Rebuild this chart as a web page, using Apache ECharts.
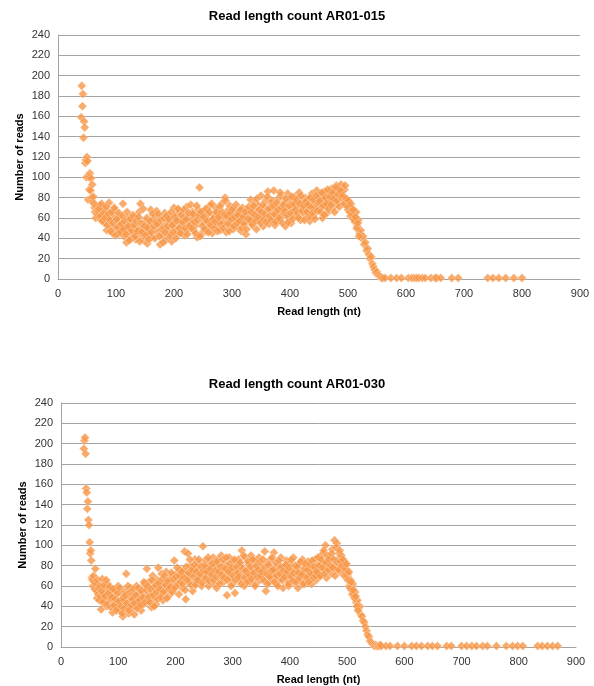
<!DOCTYPE html>
<html lang="en">
<head>
    <meta charset="UTF-8">
    <title>Read length count</title>
    <style>
        html, body { margin: 0; padding: 0; background: #fff; }
    </style>
</head>
<body>
<div id="chart" style="width: 594px; height: 686px;"></div>
<script src="https://cdn.jsdelivr.net/npm/echarts@6/dist/echarts.min.js"></script>
<script type="text/javascript">
    // AR01-015 : lengths 40..69 step 1, even lengths 70..560, odd lengths 71..519, then sparse tail
    var head015 = [159, 190, 170, 182, 139, 155, 149, 114, 117, 100,
        120, 116, 78, 100, 88, 104, 87, 99, 80, 93,
        76, 81, 74, 70, 66, 60, 72, 64, 68, 62];
    var even015 = [
        66, 72, 58, 63, 70, 55, 61, 48, 67, 75,
        60, 52, 45, 64, 68, 50, 57, 44, 62, 48,
        55, 74, 42, 50, 36, 60, 47, 53, 40, 58,
        45, 61, 39, 52, 48, 66, 74, 43, 50, 38,
        56, 47, 35, 53, 44, 68, 41, 58, 49, 63,
        67, 46, 54, 34, 61, 43, 52, 65, 38, 57,
        48, 62, 44, 37, 55, 70, 50, 64, 45, 58,
        67, 52, 47, 60, 43, 56, 71, 49, 63, 54,
        58, 66, 48, 61, 53, 41, 68, 90, 44, 62,
        55, 67, 47, 59, 64, 51, 72, 56, 45, 63,
        60, 70, 52, 65, 58, 48, 74, 62, 55, 80,
        46, 67, 59, 72, 53, 63, 49, 68, 57, 64,
        51, 66, 60, 47, 70, 56, 62, 44, 68, 58,
        64, 78, 55, 69, 60, 75, 49, 66, 72, 58,
        82, 63, 52, 70, 77, 60, 86, 54, 68, 74,
        61, 87, 53, 71, 65, 79, 58, 82, 67, 63,
        75, 52, 70, 84, 60, 78, 55, 72, 66, 81,
        62, 74, 70, 85, 58, 77, 68, 64, 80, 71,
        66, 79, 57, 73, 84, 62, 76, 69, 87, 72,
        68, 82, 74, 60, 79, 86, 71, 65, 83, 76,
        78, 89, 70, 84, 80, 92, 74, 88, 82, 93,
        86, 80, 88, 74, 78, 68, 72, 62, 70, 60,
        64, 56, 66, 52, 58, 45, 48, 40, 42, 34,
        36, 28, 30, 24, 20, 22, 15, 12, 9, 6,
        7, 4, 3, 2, 1, 1];
    var odd015 = [
        69, 62, 74, 57, 65, 60, 71, 53, 64, 58,
        47, 66, 55, 70, 43, 59, 51, 65, 46, 54,
        62, 49, 57, 44, 66, 52, 38, 59, 48, 63,
        53, 42, 57, 47, 61, 37, 55, 46, 69, 52,
        43, 60, 50, 39, 57, 46, 64, 52, 40, 56,
        54, 64, 42, 58, 49, 36, 60, 46, 62, 52,
        59, 42, 66, 53, 46, 61, 40, 57, 69, 50,
        45, 63, 56, 68, 50, 59, 44, 65, 52, 73,
        50, 64, 56, 45, 72, 58, 63, 42, 66, 52,
        61, 49, 69, 57, 46, 66, 53, 74, 59, 50,
        56, 66, 47, 61, 71, 54, 66, 50, 63, 77,
        62, 54, 47, 65, 59, 69, 52, 61, 73, 55,
        63, 57, 68, 50, 61, 54, 66, 49, 59, 71,
        58, 66, 53, 72, 63, 57, 79, 61, 68, 55,
        66, 73, 59, 64, 56, 81, 69, 62, 58, 77,
        72, 64, 56, 75, 68, 60, 85, 70, 55, 73,
        67, 79, 63, 56, 72, 65, 81, 59, 74, 68,
        78, 65, 60, 74, 82, 67, 72, 58, 76, 66,
        73, 61, 80, 70, 65, 78, 59, 82, 67, 75,
        77, 66, 85, 72, 63, 80, 74, 88, 69, 81,
        73, 85, 79, 66, 90, 77, 83, 71, 87, 80,
        82, 74, 92, 79, 71, 77, 66, 74, 63, 68,
        58, 61, 50, 55, 42];
    var tailLen015 = [564, 574, 584, 592, 604, 610, 614, 618, 622, 628, 633, 643, 650, 653, 660,
        679, 690, 741, 750, 760, 772, 786, 800];
    var tailCnt015 = [1, 1, 1, 1, 1, 1, 1, 1, 1, 1, 1, 1, 1, 1, 1, 1, 1, 1, 1, 1, 1, 1, 1];

    // AR01-030
    var head030 = [195, 203, 206, 190, 156, 152, 136, 143, 125, 120,
        103, 92, 95, 85, 68, 66, 60, 70, 64, 57,
        77, 62, 55, 48, 66, 52, 58, 46, 60, 50];
    var even030 = [
        37, 67, 52, 45, 58, 40, 62, 48, 55, 47,
        34, 50, 42, 56, 38, 60, 44, 36, 52, 30,
        46, 55, 72, 40, 33, 48, 58, 38, 50, 32,
        44, 60, 40, 53, 47, 36, 57, 42, 62, 50,
        77, 45, 64, 52, 39, 70, 48, 58, 42, 66,
        78, 52, 60, 72, 46, 63, 55, 74, 58, 50,
        66, 55, 70, 62, 85, 60, 72, 65, 52, 76,
        68, 58, 75, 94, 47, 70, 92, 64, 80, 72,
        55, 75, 86, 64, 78, 70, 82, 68, 60, 99,
        72, 85, 66, 78, 60, 84, 74, 68, 88, 62,
        80, 58, 86, 72, 66, 90, 76, 64, 82, 70,
        51, 78, 88, 68, 74, 62, 84, 53, 76, 70,
        86, 66, 80, 95, 72, 60, 88, 74, 68, 82,
        64, 90, 76, 70, 85, 62, 78, 72, 88, 66,
        80, 74, 68, 94, 55, 82, 70, 64, 86, 76,
        68, 93, 72, 62, 80, 75, 66, 88, 70, 58,
        78, 72, 85, 66, 60, 82, 74, 68, 88, 64,
        76, 70, 58, 82, 72, 66, 86, 74, 62, 80,
        70, 84, 68, 76, 62, 78, 72, 86, 66, 80,
        74, 88, 70, 82, 92, 76, 100, 68, 84, 78,
        88, 72, 96, 80, 105, 76, 102, 86, 92, 74,
        90, 78, 84, 74, 80, 70, 72, 60, 66, 56,
        62, 50, 54, 44, 46, 38, 40, 32, 30, 26,
        24, 20, 16, 12, 10, 6, 5, 3, 2, 1,
        2, 1, 1, 1, 2, 1];
    var odd030 = [
        55, 44, 61, 50, 66, 42, 53, 59, 39, 49,
        57, 41, 47, 36, 53, 45, 58, 40, 33, 48,
        38, 51, 43, 60, 36, 54, 41, 47, 57, 43,
        51, 38, 58, 46, 41, 55, 49, 64, 44, 56,
        60, 49, 44, 57, 66, 51, 40, 61, 54, 47,
        63, 57, 49, 67, 54, 70, 61, 48, 65, 57,
        59, 73, 54, 67, 58, 69, 78, 62, 70, 64,
        74, 62, 68, 56, 79, 66, 73, 86, 61, 76,
        69, 81, 61, 74, 66, 86, 72, 79, 63, 75,
        80, 68, 74, 88, 65, 77, 71, 82, 66, 75,
        69, 84, 74, 62, 79, 71, 86, 68, 77, 88,
        66, 74, 82, 60, 78, 70, 86, 66, 79, 73,
        69, 83, 62, 77, 90, 68, 75, 64, 84, 71,
        79, 67, 86, 73, 60, 80, 69, 76, 84, 70,
        74, 86, 65, 78, 72, 62, 81, 69, 75, 88,
        76, 64, 83, 70, 60, 85, 72, 79, 66, 75,
        69, 81, 74, 62, 78, 70, 86, 65, 73, 80,
        64, 79, 73, 68, 84, 71, 62, 77, 82, 68,
        76, 64, 81, 72, 85, 68, 79, 70, 74, 88,
        80, 70, 86, 78, 95, 72, 83, 90, 76, 86,
        80, 92, 78, 86, 70, 98, 83, 76, 95, 84,
        80, 86, 70, 77, 82, 66, 74, 58, 64, 52,
        56, 48, 50, 40, 36];
    var tailLen030 = [568, 575, 588, 600, 613, 621, 630, 641, 649, 658, 674, 682, 700, 709, 718,
        726, 737, 745, 761, 778, 789, 798, 807, 833, 841, 850, 859, 868];
    var tailCnt030 = [1, 1, 1, 1, 1, 1, 1, 1, 1, 1, 1, 1, 1, 1, 1,
        1, 1, 1, 1, 1, 1, 1, 1, 1, 1, 1, 1, 1];

    var titles = ['Read length count AR01-015', 'Read length count AR01-030'];

    function seq(start, step, vals) {
        var res = [];
        for (var i = 0; i < vals.length; i++) {
            res.push([start + i * step, vals[i]]);
        }
        return res;
    }
    function pairs(lens, vals) {
        var res = [];
        for (var i = 0; i < lens.length; i++) res.push([lens[i], vals[i]]);
        return res;
    }

    var data015 = seq(40, 1, head015).concat(seq(70, 2, even015), seq(71, 2, odd015), pairs(tailLen015, tailCnt015));
    var data030 = seq(40, 1, head030).concat(seq(70, 2, even030), seq(71, 2, odd030), pairs(tailLen030, tailCnt030));

    var font = 'Liberation Sans, Arial, sans-serif';
    var gridColor = '#a3a3a3';

    function xAx(i) {
        return {
            gridIndex: i, type: 'value', min: 0, max: 900, interval: 100,
            name: 'Read length (nt)', nameLocation: 'middle', nameGap: 27,
            nameTextStyle: {fontFamily: font, fontSize: 11, fontWeight: 'bold', color: '#000'},
            axisLine: {show: true, lineStyle: {color: gridColor}},
            axisTick: {show: false},
            axisLabel: {fontFamily: font, fontSize: 11, color: '#333', margin: 9},
            splitLine: {show: false}
        };
    }
    function yAx(i) {
        return {
            gridIndex: i, type: 'value', min: 0, max: 240, interval: 20,
            name: 'Number of reads', nameLocation: 'middle', nameGap: 33,
            nameMoveOverlap: false,
            nameTextStyle: {fontFamily: font, fontSize: 11, fontWeight: 'bold', color: '#000'},
            axisLine: {show: true, lineStyle: {color: gridColor}},
            axisTick: {show: false},
            axisLabel: {fontFamily: font, fontSize: 11, color: '#333', margin: 8},
            splitLine: {show: true, lineStyle: {color: gridColor, width: 1}}
        };
    }
    function sc(i, d) {
        return {
            type: 'scatter', xAxisIndex: i, yAxisIndex: i, data: d,
            symbol: 'diamond', symbolSize: [9, 9],
            itemStyle: {color: '#f79646', borderColor: 'rgba(255,255,255,0.4)', borderWidth: 1},
            emphasis: {disabled: true},
            animation: false
        };
    }

    var chart = echarts.init(document.getElementById('chart'));
    chart.setOption({
        backgroundColor: '#fff',
        title: [
            {text: titles[0], left: 'center', top: 5,
                textStyle: {fontFamily: font, fontSize: 13, fontWeight: 'bold', color: '#000'}},
            {text: titles[1], left: 'center', top: 373,
                textStyle: {fontFamily: font, fontSize: 13, fontWeight: 'bold', color: '#000'}}
        ],
        grid: [
            {left: 58, right: 14, top: 35, height: 244},
            {left: 61, right: 18, top: 403, height: 244}
        ],
        xAxis: [xAx(0), xAx(1)],
        yAxis: [yAx(0), yAx(1)],
        series: [sc(0, data015), sc(1, data030)]
    });
</script>
</body>
</html>
